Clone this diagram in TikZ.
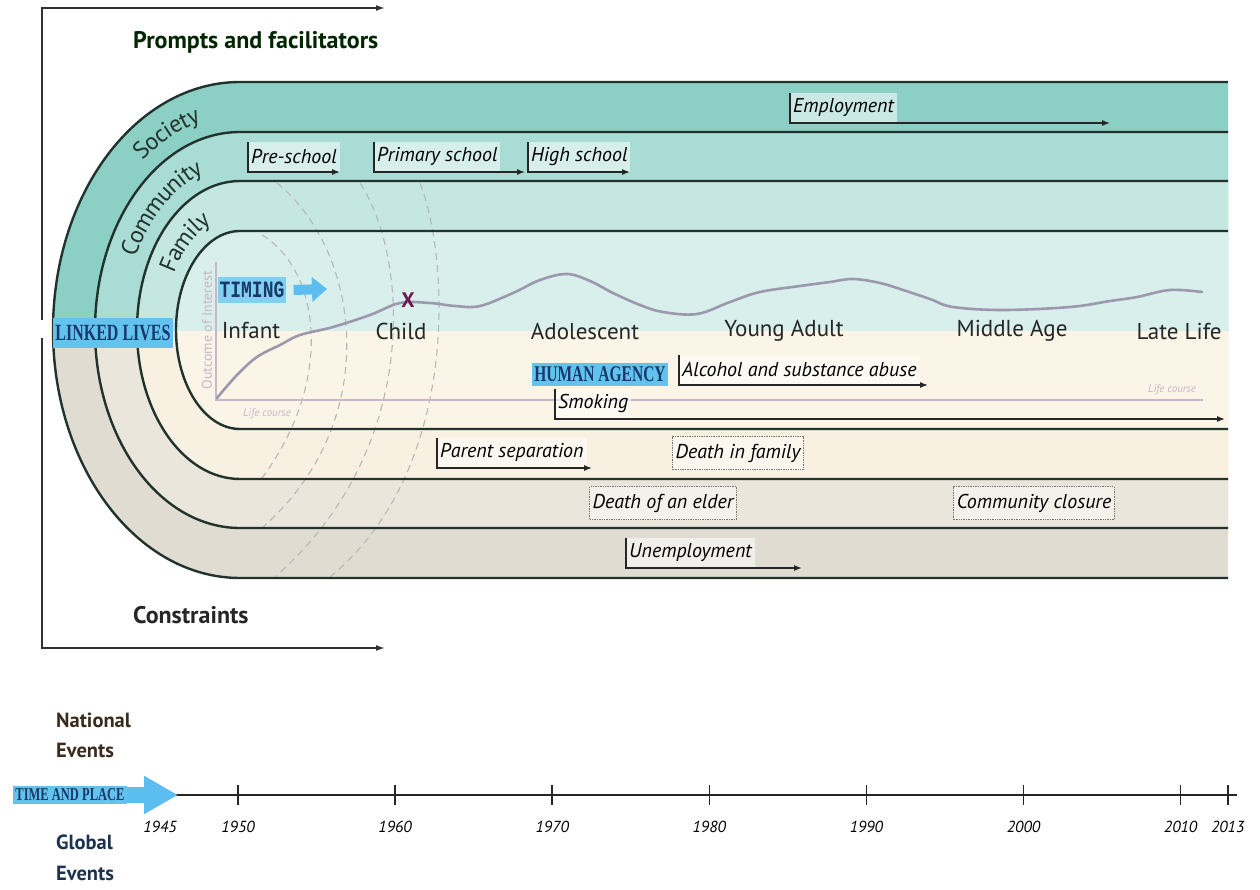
\documentclass[tikz,border=0pt]{standalone}
\usepackage{fontspec}
\setmainfont{PT Sans}
\newfontfamily\tagfont{Liberation Serif}
\newfontfamily\tagmono{Liberation Mono}
\usepackage{graphicx}
\usetikzlibrary{arrows.meta,positioning,decorations.text}
\definecolor{socT}{HTML}{8CCFC4}
\definecolor{comT}{HTML}{A8DCD4}
\definecolor{famT}{HTML}{C4E7E1}
\definecolor{innT}{HTML}{D8EFEB}
\definecolor{socB}{HTML}{E1DCD2}
\definecolor{comB}{HTML}{EBE6DB}
\definecolor{famB}{HTML}{F8F1E1}
\definecolor{innB}{HTML}{FBF5E7}
\definecolor{bandline}{HTML}{22332D}
\definecolor{tagblue}{HTML}{62C3EE}
\definecolor{tagtext}{HTML}{17396B}
\definecolor{arrowblue}{HTML}{5CBDF0}
\definecolor{lifeline}{HTML}{9C98AE}
\definecolor{axisc}{HTML}{C9B6C9}
\definecolor{xmark}{HTML}{6E1850}
\definecolor{natc}{HTML}{3A2C1C}
\definecolor{globc}{HTML}{1C3350}
\newcommand\tallcaps[1]{\scalebox{1}[1.45]{#1}}

\begin{document}
\begin{tikzpicture}[x=1pt,y=1pt,
  band/.style={draw=bandline,line width=2.4},
  ripple/.style={draw=black!28,dash pattern=on 7pt off 5pt,line width=1.1},
  stage/.style={font=\fontsize{23}{23}\selectfont,text=black!85,inner sep=0},
  ringname/.style={decorate,decoration={text along path,text align=center,raise=-8pt,
    text={|\fontsize{24}{24}\selectfont\color{bandline}|#1}}},
  evtext/.style={font=\itshape\fontsize{20}{20}\selectfont,fill=white,fill opacity=.55,text opacity=1,inner xsep=3,inner ysep=0,anchor=south west,minimum height=30},
  evarrow/.style={draw=black!85,line width=1.2,-{Latex[length=8,width=6]}},
  evbox/.style={font=\itshape\fontsize{20}{20}\selectfont,draw=black!55,densely dotted,line width=1.4,fill=white,fill opacity=.45,text opacity=1,inner xsep=3,minimum height=33},
  tag/.style={fill=tagblue,text=tagtext,inner xsep=2,inner ysep=0},
  heading/.style={font=\bfseries\fontsize{24}{24}\selectfont,anchor=west,inner sep=0},
  frame/.style={draw=black!80,line width=1.5,-{Latex[length=9,width=6]}},
  year/.style={font=\itshape\fontsize{16}{16}\selectfont,inner sep=0},
  tiny/.style={font=\fontsize{11}{11}\selectfont,text=axisc,inner sep=0}]
\useasboundingbox (0,0) rectangle (1260,-890);

\foreach \b/\a/\ct/\cb in {248/187/socT/socB,198/145/comT/comB,149/103/famT/famB,99/64/innT/innB}{
  \begin{scope}
    \clip (0,0) rectangle (1260,-332);
    \fill[\ct] (1228,-330+\b) -- (240,-330+\b) arc[start angle=90,end angle=270,x radius=\a,y radius=\b] -- (1228,-330-\b) -- cycle;
  \end{scope}
  \begin{scope}
    \clip (0,-332) rectangle (1260,-890);
    \fill[\cb] (1228,-330+\b) -- (240,-330+\b) arc[start angle=90,end angle=270,x radius=\a,y radius=\b] -- (1228,-330-\b) -- cycle;
  \end{scope}
}

\draw[ripple] (262,-235) .. controls (320,-270) and (335,-380) .. (262,-478);
\draw[ripple] (277,-183) .. controls (360,-250) and (385,-420) .. (262,-528);
\draw[ripple] (360,-183) .. controls (410,-260) and (420,-450) .. (275,-577);
\draw[ripple] (420,-183) .. controls (450,-260) and (460,-470) .. (330,-577);

\foreach \b/\a in {248/187,198/145,149/103,99/64}{
  \draw[band] (1228,-330+\b) -- (240,-330+\b) arc[start angle=90,end angle=270,x radius=\a,y radius=\b] -- (1228,-330-\b);
}

\path[ringname=Society] (240,-330) ++(145:166 and 223) arc[start angle=145,end angle=85,x radius=166,y radius=223];
\path[ringname=Community] (240,-330) ++(165:124 and 173.5) arc[start angle=165,end angle=95,x radius=124,y radius=173.5];
\path[ringname=Family] (240,-330) ++(165:83.5 and 124) arc[start angle=165,end angle=95,x radius=83.5,y radius=124];

% life course graph
\coordinate (ax-top) at (216,-262);
\coordinate (ax-org) at (216,-400);
\coordinate (ax-end) at (1203,-400);
\draw[axisc,line width=1.8] (ax-top) -- (ax-org) -- (ax-end);
\node[tiny,rotate=90,font=\fontsize{14}{14}\selectfont] (outcome) at (207,-330) {Outcome of Interest};
\node[tiny,font=\itshape\fontsize{11}{11}\selectfont] (lc-left) at (267,-414) {Life course};
\node[tiny,font=\itshape\fontsize{11}{11}\selectfont] (lc-right) at (1172,-390) {Life course};
\draw[lifeline,line width=2.6,line cap=round] plot[smooth,tension=.6] coordinates {
  (217,-398) (237,-375) (257,-357) (280,-345) (300,-335) (333,-327) (370,-315) (400,-303)
  (430,-303) (455,-306) (480,-306) (513,-293) (540,-280) (567,-274) (590,-281) (613,-293)
  (640,-305) (663,-312) (697,-314) (730,-302) (760,-292) (800,-286) (830,-282) (853,-279)
  (880,-283) (903,-290) (930,-299) (953,-307) (1003,-310) (1070,-307) (1110,-301) (1137,-297)
  (1170,-290) (1202,-292)};
\node[font=\bfseries\fontsize{21}{21}\selectfont,text=xmark,inner sep=0] (xpt) at (408,-300) {X};

\node[stage] (infant) at (251,-331) {Infant};
\node[stage] (child) at (401,-331) {Child};
\node[stage] (adolescent) at (585,-331) {Adolescent};
\node[stage] (young) at (784,-331) {Young Adult};
\node[stage] (middle) at (1012,-331) {Middle Age};
\node[stage] (late) at (1179,-331) {Late Life};

% events
\node[evtext] (pre) at (248,-172) {Pre-school};
\coordinate (pre-end) at (340,-172);
\node[evtext] (primary) at (374,-172) {Primary school};
\coordinate (primary-end) at (525,-172);
\node[evtext] (high) at (528,-172) {High school};
\coordinate (high-end) at (630,-172);
\node[evtext] (employ) at (790,-123) {Employment};
\coordinate (employ-end) at (1110,-123);
\node[evtext] (alcohol) at (679,-385) {Alcohol and substance abuse};
\coordinate (alcohol-end) at (928,-385);
\node[evtext] (smoke) at (555,-419) {Smoking};
\coordinate (smoke-end) at (1225,-419);
\node[evtext] (parent) at (437,-468) {Parent separation};
\coordinate (parent-end) at (592,-468);
\node[evtext] (unemploy) at (626,-568) {Unemployment};
\coordinate (unemploy-end) at (802,-568);
\foreach \n in {pre,primary,high,employ,alcohol,smoke,parent,unemploy}{
  \draw[evarrow] (\n.north west) |- (\n-end);
}
\node[evbox] (deathfam) at (738,-453) {Death in family};
\node[evbox] (elder) at (663,-503) {Death of an elder};
\node[evbox] (closure) at (1034,-503) {Community closure};

% tags
\node[tag,minimum height=29,font=\tagfont\bfseries\fontsize{16}{16}\selectfont] (linked) at (113,-333) {\tallcaps{LINKED LIVES}};
\node[tag,minimum height=26,fill=tagblue!80,font=\tagmono\bfseries\fontsize{18}{18}\selectfont] (timing) at (252,-290) {\scalebox{1}[1.3]{TIMING}};
\coordinate (timing-tip) at (327,-289);
\draw[arrowblue,line width=10,-{Triangle[length=15,width=24]}] ([xshift=7]timing.east) -- (timing-tip);
\node[tag,minimum height=23,font=\tagfont\bfseries\fontsize{15.5}{15.5}\selectfont] (agency) at (600,-374) {\tallcaps{HUMAN AGENCY}};

% frames
\coordinate (pf-low) at (42,-320);
\coordinate (pf-end) at (385,-8);
\draw[frame] (pf-low) |- (pf-end);
\coordinate (cs-top) at (42,-338);
\coordinate (cs-end) at (385,-648);
\draw[frame] (cs-top) |- (cs-end);
\node[heading,text=black!85!green] (prompts) at (133,-42) {Prompts and facilitators};
\node[heading,text=black!85] (constraints) at (133,-615) {Constraints};

% time line
\node[heading,text=natc,font=\bfseries\fontsize{20.5}{20.5}\selectfont] (national) at (56,-720) {National};
\node[heading,text=natc,font=\bfseries\fontsize{20.5}{20.5}\selectfont] (nat-ev) at (56,-750) {Events};
\node[heading,text=globc,font=\bfseries\fontsize{20.5}{20.5}\selectfont] (global) at (56,-842) {Global};
\node[heading,text=globc,font=\bfseries\fontsize{20.5}{20.5}\selectfont] (glob-ev) at (56,-873) {Events};
\coordinate (tl-start) at (140,-795);
\coordinate (tl-end) at (1237,-795);
\draw[black!85,line width=2.2] (tl-start) -- (tl-end);
\foreach \yr in {1950,1960,1970,1980,1990,2000,2010,2013}{
  \pgfmathsetmacro\tx{238+15.71*(\yr-1950)}
  \draw[black!85,line width=1.6] (\tx,-785) -- (\tx,-805);
  \node[year] (y\yr) at (\tx,-827) {\yr};
}
\node[year] (y1945) at (160,-827) {1945};
\node[tag,minimum height=18,font=\tagfont\bfseries\fontsize{12.5}{12.5}\selectfont] (place) at (70,-795) {\tallcaps{TIME AND PLACE}};
\coordinate (place-tip) at (178,-795);
\draw[arrowblue,line width=16,-{Triangle[length=34,width=36]}] (place.east) -- (place-tip);
\end{tikzpicture}
\end{document}
